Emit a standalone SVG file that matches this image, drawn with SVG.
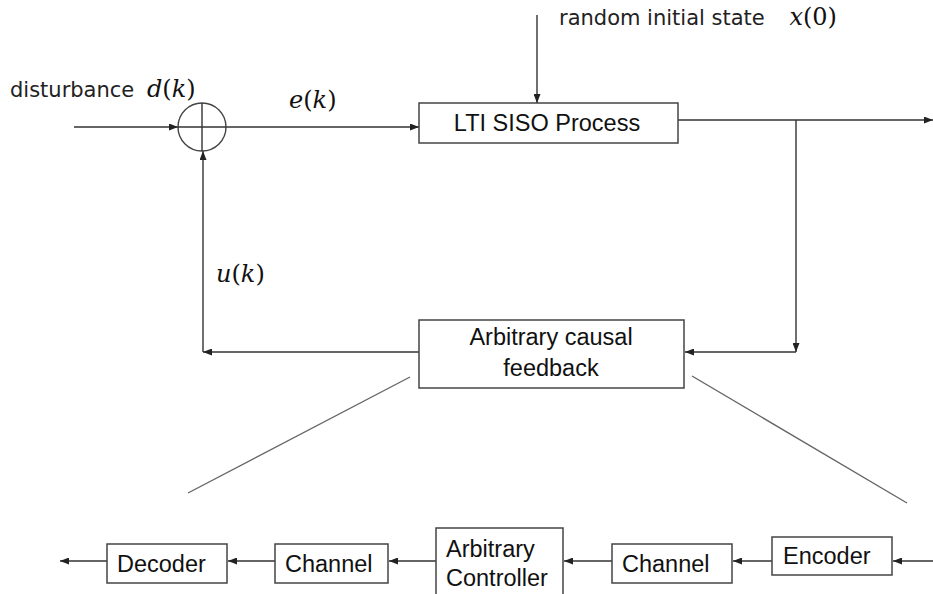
<svg xmlns="http://www.w3.org/2000/svg" width="933" height="594" viewBox="0 0 933 594">
<style>
.box{fill:#fff;stroke:#444;stroke-width:1.5}
.ln{fill:none;stroke:#333;stroke-width:1.4}
.dg{fill:none;stroke:#666;stroke-width:1.4}
.t{font-family:"Liberation Sans",Arial,sans-serif;font-size:23.5px;fill:#111}
.lb{font-family:"DejaVu Sans",Verdana,sans-serif;font-size:21px;fill:#222}
.m{font-family:"DejaVu Serif","Liberation Serif",serif;font-size:24px;fill:#111}
.i{font-style:italic}
</style>
<defs>
<marker id="ah" markerWidth="9" markerHeight="7" refX="9" refY="3.5" orient="auto" markerUnits="userSpaceOnUse">
<path d="M0,0 L9,3.5 L0,7 z" fill="#222"/>
</marker>
</defs>
<rect width="933" height="594" fill="#fff"/>
<g id="connectors">
<line class="ln" x1="74" y1="127" x2="178" y2="127" marker-end="url(#ah)"/>
<line class="ln" x1="226" y1="127" x2="419" y2="127" marker-end="url(#ah)"/>
<line class="ln" x1="537" y1="15" x2="537" y2="103" marker-end="url(#ah)"/>
<line class="ln" x1="678" y1="120" x2="933" y2="120" marker-end="url(#ah)"/>
<line class="ln" x1="796" y1="120" x2="796" y2="352" marker-end="url(#ah)"/>
<line class="ln" x1="796" y1="352" x2="685" y2="352" marker-end="url(#ah)"/>
<line class="ln" x1="419" y1="352" x2="203" y2="352" marker-end="url(#ah)"/>
<line class="ln" x1="203" y1="352" x2="203" y2="151" marker-end="url(#ah)"/>
<line class="dg" x1="410" y1="377" x2="188" y2="493"/>
<line class="dg" x1="692" y1="376" x2="907" y2="503"/>
<line class="ln" x1="933" y1="561" x2="893" y2="561" marker-end="url(#ah)"/>
<line class="ln" x1="772" y1="561" x2="733" y2="561" marker-end="url(#ah)"/>
<line class="ln" x1="612" y1="561" x2="564" y2="561" marker-end="url(#ah)"/>
<line class="ln" x1="436" y1="561" x2="389" y2="561" marker-end="url(#ah)"/>
<line class="ln" x1="275" y1="561" x2="228" y2="561" marker-end="url(#ah)"/>
<line class="ln" x1="107" y1="561" x2="60" y2="561" marker-end="url(#ah)"/>
</g>
<g id="sum">
<circle cx="202" cy="127" r="24" fill="none" stroke="#444" stroke-width="1.4"/>
<line class="ln" x1="202" y1="103" x2="202" y2="151"/>
<line class="ln" x1="178" y1="127" x2="226" y2="127"/>
</g>
<g id="labels">
<text class="lb" x="10" y="97">disturbance <tspan class="m i" dx="6">d</tspan><tspan class="m">(</tspan><tspan class="m i">k</tspan><tspan class="m">)</tspan></text>
<text class="lb" x="559" y="25">random initial state <tspan class="m i" dx="18">x</tspan><tspan class="m">(0)</tspan></text>
<text class="m" x="289" y="108"><tspan class="i">e</tspan>(<tspan class="i">k</tspan>)</text>
<text class="m" x="216" y="282"><tspan class="i">u</tspan>(<tspan class="i">k</tspan>)</text>
</g>
<g id="process">
<rect class="box" x="419" y="103" width="259" height="40"/>
<text class="t" x="547" y="131" text-anchor="middle">LTI SISO Process</text>
</g>
<g id="feedback">
<rect class="box" x="419" y="320" width="265" height="68"/>
<text class="t" x="551" y="345" text-anchor="middle">Arbitrary causal</text>
<text class="t" x="551" y="376" text-anchor="middle">feedback</text>
</g>
<g id="decoder">
<rect class="box" x="107" y="544" width="120" height="39"/>
<text class="t" x="117" y="572">Decoder</text>
</g>
<g id="channel1">
<rect class="box" x="275" y="544" width="113" height="39"/>
<text class="t" x="285" y="572">Channel</text>
</g>
<g id="controller">
<rect class="box" x="436" y="528" width="127" height="70"/>
<text class="t" x="446" y="557">Arbitrary</text>
<text class="t" x="446" y="586">Controller</text>
</g>
<g id="channel2">
<rect class="box" x="612" y="544" width="120" height="39"/>
<text class="t" x="622" y="572">Channel</text>
</g>
<g id="encoder">
<rect class="box" x="772" y="537" width="120" height="38"/>
<text class="t" x="783" y="564">Encoder</text>
</g>
</svg>
